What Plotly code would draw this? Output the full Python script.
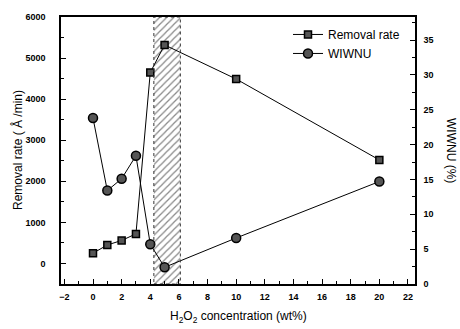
import plotly.graph_objects as go

# Data
conc = [0, 1, 2, 3, 4, 5, 10, 20]
removal_rate = [250, 450, 560, 720, 4650, 5320, 4490, 2520]
wiwnu_conc = [0, 1, 2, 3, 4, 5, 10, 20]
wiwnu = [23.8, 13.4, 15.1, 18.4, 5.7, 2.4, 6.6, 14.7]
hatch_range = [4.25, 6.1]

x_tick_vals = list(range(-2, 23, 2))
y_tick_vals = list(range(0, 6001, 1000))
y2_tick_vals = list(range(0, 36, 5))

XR = [-2.235, 22.49]
YR = [-500, 6000]
Y2R = [0, 38.3]

FONT = "Liberation Sans, Arial, sans-serif"

L, R, T, B = 61, 415, 13, 284
W, H = 460, 329
PW, PH = R - L, B - T

def px(x):
    return (x - L) / PW

def py(y):
    return (B - y) / PH

fig = go.Figure()

# hatched region
fig.add_trace(go.Bar(
    x=[(hatch_range[0] + hatch_range[1]) / 2],
    y=[YR[1] - YR[0]],
    base=[YR[0]],
    width=[hatch_range[1] - hatch_range[0]],
    marker=dict(color="rgba(255,255,255,0)", line=dict(width=0),
                pattern=dict(shape="/", fgcolor="#111", size=5, solidity=0.25, bgcolor="rgba(255,255,255,0)")),
    showlegend=False, hoverinfo="skip", yaxis="y",
))

fig.add_shape(type="rect", xref="x", yref="y",
              x0=hatch_range[0], x1=hatch_range[1], y0=YR[0], y1=YR[1],
              line=dict(color="#333", width=1, dash="dot"), layer="above")

fig.add_trace(go.Scatter(
    x=conc, y=removal_rate, name="Removal rate", mode="lines+markers",
    line=dict(color="black", width=1),
    marker=dict(symbol="square", size=7, color="#555", line=dict(color="black", width=1.5)),
    yaxis="y",
))
fig.add_trace(go.Scatter(
    x=wiwnu_conc, y=wiwnu, name="WIWNU", mode="lines+markers",
    line=dict(color="black", width=1),
    marker=dict(symbol="circle", size=9, color="#555", line=dict(color="black", width=1.5)),
    yaxis="y2",
))

tickfont = dict(family=FONT, size=9, color="black", weight="bold")

fig.update_layout(
    width=W, height=H,
    margin=dict(l=L, r=W - R, t=T, b=H - B),
    paper_bgcolor="white", plot_bgcolor="white",
    font=dict(family=FONT, color="black"),
    showlegend=True,
    legend=dict(x=px(288), y=py(16), xanchor="left", yanchor="top",
                bgcolor="rgba(0,0,0,0)", font=dict(size=12, family=FONT),
                itemwidth=30, tracegroupgap=0),
    xaxis=dict(range=XR, tickvals=x_tick_vals, showgrid=False, zeroline=False,
               showline=True, linecolor="black", linewidth=1.5, mirror=True,
               ticks="inside", ticklen=5, tickcolor="black", tickwidth=1,
               minor=dict(dtick=1, tick0=0, ticks="inside", ticklen=3, tickcolor="black"),
               tickfont=tickfont, ticklabelstandoff=3),
    yaxis=dict(range=YR, tickvals=y_tick_vals, showgrid=False, zeroline=False,
               showline=True, linecolor="black", linewidth=1.5,
               ticks="inside", ticklen=5, tickcolor="black", tickwidth=1,
               minor=dict(dtick=500, tick0=0, ticks="inside", ticklen=3, tickcolor="black"),
               tickfont=tickfont, ticklabelstandoff=12),
    yaxis2=dict(range=Y2R, tickvals=y2_tick_vals, overlaying="y", side="right",
                showgrid=False, zeroline=False,
                showline=True, linecolor="black", linewidth=1.5,
                ticks="inside", ticklen=5, tickcolor="black", tickwidth=1,
                minor=dict(dtick=2.5, tick0=0, ticks="inside", ticklen=3, tickcolor="black"),
                tickfont=tickfont, ticklabelstandoff=5),
    annotations=[
        dict(text="Removal rate ( Å /min)", xref="paper", yref="paper",
             x=px(17), y=py(148), textangle=-90,
             showarrow=False, font=dict(size=12, family=FONT), xanchor="center", yanchor="middle"),
        dict(text="WIWNU (%)", xref="paper", yref="paper",
             x=px(451), y=py(148), textangle=90,
             showarrow=False, font=dict(size=12, family=FONT), xanchor="center", yanchor="middle"),
        dict(text="H<sub>2</sub>O<sub>2</sub> concentration (wt%)", xref="paper", yref="paper",
             x=px(238), y=py(318),
             showarrow=False, font=dict(size=12, family=FONT), xanchor="center", yanchor="middle"),
    ],
)

fig.write_html("out.html", config={"displayModeBar": False},
               post_script="document.body.style.margin='0';document.body.style.padding='0';")
